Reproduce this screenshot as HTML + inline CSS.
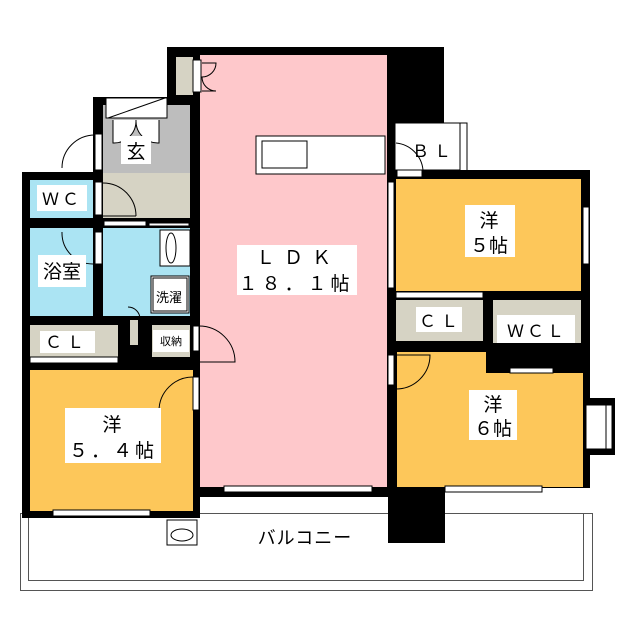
<!DOCTYPE html>
<html><head><meta charset="utf-8"><style>html,body{margin:0;padding:0;background:#fff}svg{display:block}text{font-family:"Liberation Sans","Noto Sans CJK JP",sans-serif;fill:#000}</style></head><body>
<svg width="640" height="640" viewBox="0 0 640 640" xmlns="http://www.w3.org/2000/svg">
<rect x="20.5" y="513.5" width="572" height="77" fill="#fff" stroke="#555" stroke-width="1"/>
<rect x="28.5" y="513.5" width="555" height="67" fill="none" stroke="#555" stroke-width="1"/>
<rect x="22" y="172" width="178" height="346" fill="#000"/>
<rect x="93" y="97" width="107" height="80" fill="#000"/>
<rect x="167" y="47" width="230" height="450" fill="#000"/>
<rect x="387" y="47" width="57" height="82" fill="#000"/>
<rect x="387" y="170" width="203" height="318" fill="#000"/>
<rect x="388" y="487" width="57" height="56" fill="#000"/>
<rect x="200" y="55" width="187" height="432" fill="#fec8cb"/>
<rect x="176" y="57" width="17" height="38" fill="#d6d3c4"/>
<rect x="103" y="105" width="87" height="68" fill="#bdbdbd"/>
<rect x="103" y="173" width="87" height="45" fill="#d6d3c4"/>
<rect x="30" y="180" width="63" height="38" fill="#abe4f3"/>
<rect x="30" y="228" width="63" height="88" fill="#abe4f3"/>
<rect x="103" y="228" width="87" height="88" fill="#abe4f3"/>
<rect x="30" y="325" width="88" height="32" fill="#d6d3c4"/>
<rect x="152" y="325" width="38" height="32" fill="#d6d3c4"/>
<rect x="130" y="320" width="8" height="25" fill="#d6d3c4"/>
<rect x="30" y="370" width="163" height="141" fill="#fdc75a"/>
<rect x="396" y="179" width="185" height="112" fill="#fdc75a"/>
<rect x="396" y="300" width="87" height="41" fill="#d6d3c4"/>
<rect x="493" y="300" width="88" height="43" fill="#d6d3c4"/>
<polygon points="397,352 486,352 486,373 583,373 583,487 397,487" fill="#fdc75a"/>
<rect x="395" y="123" width="65" height="47" fill="#fff" stroke="#000" stroke-width="1"/>
<polyline points="444,123 467,123 467,170" fill="none" stroke="#000" stroke-width="1"/>
<rect x="583" y="398" width="32" height="57" fill="#000"/>
<rect x="586" y="405" width="26" height="44" fill="#fff" stroke="#000"/>
<line x1="606" y1="405" x2="606" y2="449" stroke="#000"/>
<g fill="#fff" stroke="#000" stroke-width="1">
<rect x="224" y="486" width="148" height="6"/>
<rect x="445" y="486" width="97" height="6"/>
<rect x="53" y="510" width="97" height="6"/>
<rect x="388" y="182" width="6" height="106"/>
<rect x="583" y="207" width="6" height="57"/>
<rect x="388" y="355" width="6" height="30"/>
<rect x="193" y="377" width="6" height="33"/>
<rect x="193" y="326" width="6" height="25"/>
<rect x="95" y="134" width="7" height="36"/>
<rect x="95" y="182" width="7" height="33"/>
<rect x="95" y="232" width="7" height="32"/>
<rect x="193" y="60" width="8" height="32"/>
<rect x="30" y="357" width="88" height="6"/>
<rect x="396" y="292" width="87" height="6"/>
<rect x="510" y="368" width="43" height="5"/>
<rect x="397" y="170" width="25" height="7"/>
<rect x="104" y="221" width="42" height="5"/>
<rect x="149" y="223" width="40" height="3"/>
</g>
<g fill="none" stroke="#000" stroke-width="1">
<path d="M95,135 A33,33 0 0 0 62,168"/>
<path d="M103,183 A33,33 0 0 1 136,216 M103,216 L136,216" />
<path d="M62,232 A31,31 0 0 0 93,264"/>
<path d="M199,326 A36,36 0 0 1 235,362 L199,362"/>
<path d="M193,377 A34,34 0 0 0 159,411"/>
<path d="M396,355 L430,355 A34,34 0 0 1 396,389"/>
<path d="M396,143 A30,30 0 0 1 423,170"/>
<path d="M128,307 A12,12 0 0 1 140,319"/>
<path d="M202,63 L216,63 A14,14 0 0 1 202,77 A14,14 0 0 0 216,91 L202,91"/>
</g>
<rect x="106" y="98" width="61" height="20" fill="#fff" stroke="#000"/>
<line x1="108" y1="118" x2="165" y2="98" stroke="#000"/>
<path d="M113,120 L113,143 A22,22 0 0 0 136,120 A22,22 0 0 0 159,143 L159,120" fill="#fff" stroke="#000"/>
<rect x="256" y="136" width="129" height="38" fill="#fff" stroke="#000"/>
<rect x="262" y="141" width="45" height="27" fill="#fff" stroke="#000"/>
<rect x="160" y="230" width="30" height="36" fill="#fff" stroke="#000"/>
<ellipse cx="171" cy="248" rx="5" ry="15" fill="#fff" stroke="#000"/>
<rect x="151" y="276" width="38" height="37" fill="#fff" stroke="#000"/>
<rect x="153" y="278" width="34" height="33" fill="#fff" stroke="#000"/>
<rect x="167" y="520" width="30" height="25" fill="#fff" stroke="#000"/>
<ellipse cx="182" cy="535" rx="11" ry="6" fill="#fff" stroke="#000"/>
<g fill="#fff">
<rect x="121" y="136" width="30" height="28"/>
<rect x="37" y="185" width="50" height="26"/>
<rect x="38" y="255" width="48" height="32"/>
<rect x="40" y="331" width="55" height="22"/>
<rect x="153" y="330" width="36" height="22"/>
<rect x="237" y="245" width="120" height="50"/>
<rect x="465" y="205" width="50" height="52"/>
<rect x="416" y="307" width="46" height="25"/>
<rect x="497" y="315" width="78" height="28"/>
<rect x="469" y="390" width="48" height="50"/>
<rect x="65" y="408" width="96" height="55"/>
</g>
<g font-size="19" text-anchor="middle">
<text x="136" y="158">玄</text>
<text x="62" y="205" font-size="17" letter-spacing="3">ＷＣ</text>
<text x="62" y="278">浴室</text>
<text x="169" y="302" font-size="13">洗濯</text>
<text x="67" y="348" font-size="17" letter-spacing="5">ＣＬ</text>
<text x="171" y="345" font-size="11">収納</text>
<text x="298" y="264" letter-spacing="9">ＬＤＫ</text>
<text x="296" y="290" letter-spacing="4">１８．１帖</text>
<text x="434" y="157" font-size="17" letter-spacing="5">ＢＬ</text>
<text x="489" y="227">洋</text>
<text x="489" y="252">５帖</text>
<text x="441" y="327" font-size="17" letter-spacing="5">ＣＬ</text>
<text x="537" y="337" font-size="17" letter-spacing="3">ＷＣＬ</text>
<text x="493" y="411">洋</text>
<text x="493" y="435">６帖</text>
<text x="112" y="431">洋</text>
<text x="113" y="457" letter-spacing="3">５．４帖</text>
<text x="305" y="544" font-size="18" letter-spacing="1">バルコニー</text>
</g>
</svg>
</body></html>
